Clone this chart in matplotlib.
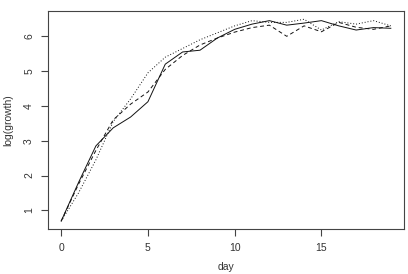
import matplotlib
matplotlib.use("Agg")
import matplotlib.pyplot as plt

days = list(range(20))
solid = [0.69, 1.80, 2.85, 3.37, 3.68, 4.12, 5.20, 5.55, 5.60, 5.95, 6.20, 6.35, 6.45, 6.32, 6.38, 6.45, 6.30, 6.18, 6.25, 6.23]
dashed = [0.69, 1.75, 2.72, 3.60, 4.05, 4.40, 5.05, 5.45, 5.75, 5.95, 6.12, 6.25, 6.32, 6.00, 6.30, 6.13, 6.40, 6.26, 6.20, 6.30]
dotted = [0.69, 1.50, 2.45, 3.55, 4.20, 4.95, 5.40, 5.65, 5.90, 6.10, 6.30, 6.45, 6.40, 6.40, 6.49, 6.18, 6.42, 6.35, 6.45, 6.30]
xticks = [0, 5, 10, 15]
yticks = [1, 2, 3, 4, 5, 6]

plt.rcParams['font.family'] = ['Liberation Sans', 'DejaVu Sans']
fig = plt.figure(figsize=(4.08, 2.74), dpi=100)
ax = fig.add_axes([48/408, 1-229/274, (404-48)/408, (229-11)/274])

lw = 0.7
ax.plot(days, solid, color='#111111', lw=lw, linestyle='-')
ax.plot(days, dashed, color='#111111', lw=lw, linestyle=(0, (4, 3)))
ax.plot(days, dotted, color='#111111', lw=lw, linestyle=(0, (1, 2)))

ax.set_xlim(-0.76, 19.76)
ax.set_ylim(0.463, 6.727)
ax.set_xticks(xticks)
ax.set_yticks(yticks)
ax.set_xticklabels([str(t) for t in xticks], fontsize=7.5)
ax.set_yticklabels([str(t) for t in yticks], fontsize=7.5, rotation=90, va='center')
ax.tick_params(direction='out', length=5, width=0.8, colors='#444444', labelcolor='#333333', pad=5)
for s in ax.spines.values():
    s.set_linewidth(0.8)
    s.set_color('#444444')

ax.set_xlabel('day', fontsize=7.5, color='#333333', va='center')
ax.xaxis.set_label_coords(0.5, (229-267)/218)
ax.set_ylabel('log(growth)', fontsize=7.5, color='#333333', va='center')
ax.yaxis.set_label_coords((8-48)/356, 0.5)

fig.savefig('out.png', dpi=100)
